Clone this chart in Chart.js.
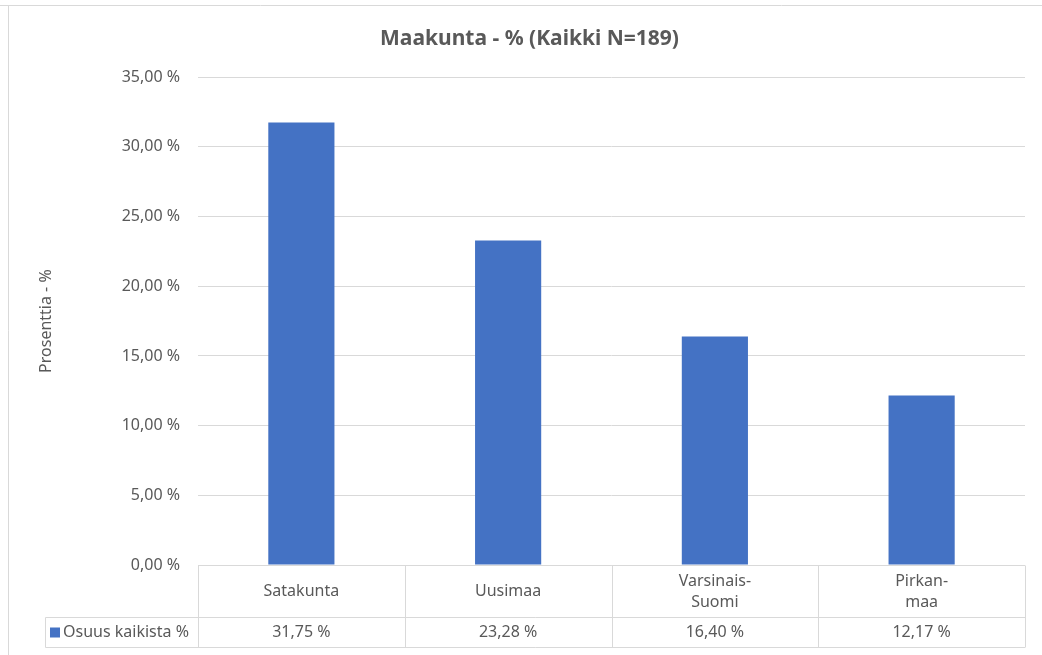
<!DOCTYPE html>
<html>
<head>
<meta charset="utf-8">
<script src="https://cdn.jsdelivr.net/npm/chart.js@4.4.1/dist/chart.umd.min.js"></script>
<style>
  html, body { margin: 0; padding: 0; background: #fff; }
</style>
</head>
<body>
<canvas id="chart" width="1042" height="655"></canvas>
<script>
const categories = [["Satakunta"], ["Uusimaa"], ["Varsinais-", "Suomi"], ["Pirkan-", "maa"]];
const values = [31.75, 23.28, 16.4, 12.17];
const seriesName = "Osuus kaikista %";
const yTicks = [0, 5, 10, 15, 20, 25, 30, 35];

const FONT = "'Noto Sans', 'Open Sans', sans-serif";
const TEXT = "#595959";
const LINE = "#d9d9d9";
const BLUE = "#4472c4";

const fmt = (v) => v.toFixed(2).replace(".", ",") + " %";

// data table under the plot + outer frame
const tablePlugin = {
  id: "dataTable",
  beforeDraw(chart) {
    const ctx = chart.ctx;
    ctx.save();
    ctx.strokeStyle = LINE;
    ctx.lineWidth = 1;
    ctx.beginPath();
    ctx.moveTo(0, 5.5);
    ctx.lineTo(chart.width, 5.5);
    ctx.moveTo(8.5, 5.5);
    ctx.lineTo(8.5, chart.height);
    ctx.stroke();
    ctx.restore();
  },
  afterDraw(chart) {
    const ctx = chart.ctx;
    const area = chart.chartArea;
    const x = chart.scales.x;
    const top = Math.round(area.bottom) + 0.5;
    const mid = top + 52;
    const bot = mid + 30;
    const left = 45.5;
    const step = (area.right - area.left) / categories.length;

    ctx.save();
    ctx.strokeStyle = LINE;
    ctx.lineWidth = 1;
    ctx.beginPath();
    ctx.moveTo(area.left, top);
    ctx.lineTo(area.right, top);
    ctx.moveTo(left, mid);
    ctx.lineTo(area.right, mid);
    ctx.moveTo(left, bot);
    ctx.lineTo(area.right, bot);
    ctx.moveTo(left, mid);
    ctx.lineTo(left, bot);
    for (let i = 0; i <= categories.length; i++) {
      const lx = Math.round(area.left + step * i) + 0.5;
      ctx.moveTo(lx, top);
      ctx.lineTo(lx, bot);
    }
    ctx.stroke();

    ctx.fillStyle = TEXT;
    ctx.font = "16px " + FONT;
    ctx.textAlign = "center";
    ctx.textBaseline = "middle";
    categories.forEach((lines, i) => {
      const cx = x.getPixelForValue(i);
      const cy = (top + mid) / 2;
      const lh = 21;
      lines.forEach((t, j) => {
        ctx.fillText(t, cx, cy + (j - (lines.length - 1) / 2) * lh);
      });
      ctx.fillText(fmt(values[i]), cx, (mid + bot) / 2);
    });

    ctx.fillStyle = BLUE;
    ctx.fillRect(50, (mid + bot) / 2 - 5, 10, 10);
    ctx.fillStyle = TEXT;
    ctx.textAlign = "left";
    ctx.fillText(seriesName, 63, (mid + bot) / 2);
    ctx.restore();
  }
};

new Chart(document.getElementById("chart"), {
  type: "bar",
  data: {
    labels: categories.map((c) => c.join(" ")),
    datasets: [{
      label: seriesName,
      data: values,
      backgroundColor: BLUE,
      categoryPercentage: 1,
      barPercentage: 0.32
    }]
  },
  options: {
    responsive: false,
    animation: false,
    devicePixelRatio: 1,
    layout: { padding: { left: 34, right: 17, top: 0, bottom: 90 } },
    plugins: {
      legend: { display: false },
      tooltip: { enabled: false },
      title: {
        display: true,
        text: "Maakunta - % (Kaikki N=189)",
        color: TEXT,
        font: { family: FONT, size: 21, weight: "bold" },
        padding: { top: 26, bottom: 26 }
      }
    },
    scales: {
      x: { display: false },
      y: {
        min: 0,
        max: 35,
        afterBuildTicks(scale) {
          scale.ticks = yTicks.map((v) => ({ value: v }));
        },
        afterFit(scale) { scale.width = 164; },
        border: { display: false },
        grid: { color: LINE, drawTicks: false },
        ticks: {
          color: TEXT,
          padding: 18,
          font: { family: FONT, size: 16 },
          callback: (v) => fmt(v)
        },
        title: {
          display: true,
          text: "Prosenttia - %",
          color: TEXT,
          font: { family: FONT, size: 16 },
          padding: { top: 3, bottom: 0 }
        }
      }
    }
  },
  plugins: [tablePlugin]
});
</script>
</body>
</html>
